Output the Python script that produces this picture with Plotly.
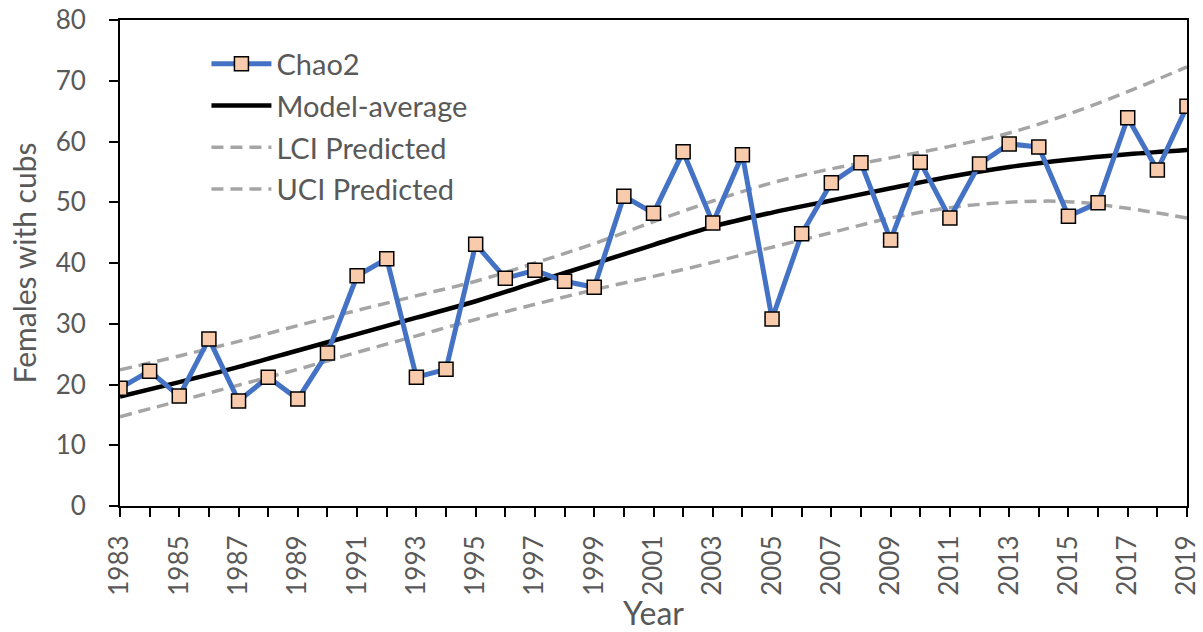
import plotly.graph_objects as go

years = list(range(1983, 2020))
chao2 = [19.4, 22.2, 18.1, 27.5, 17.3, 21.2, 17.6, 25.2, 37.9, 40.7,
         21.2, 22.5, 43.1, 37.5, 38.8, 37.0, 36.0, 51.0, 48.2, 58.3,
         46.6, 57.8, 30.8, 44.8, 53.2, 56.5, 43.8, 56.6, 47.4, 56.3,
         59.6, 59.1, 47.7, 49.9, 63.9, 55.3, 65.8]

curve_years = list(range(1983, 2020, 2))
model_avg = [18.0, 20.4, 22.9, 25.6, 28.3, 31.0, 33.7, 36.8, 39.9, 43.0,
             46.0, 48.3, 50.3, 52.3, 54.2, 55.8, 57.0, 57.9, 58.6]
lci = [14.7, 17.3, 19.9, 22.5, 25.3, 28.0, 30.7, 33.2, 35.6, 37.8,
       40.1, 42.6, 45.0, 47.4, 49.1, 50.0, 50.1, 49.0, 47.4]
uci = [22.4, 24.7, 27.1, 29.7, 32.2, 34.6, 37.0, 40.0, 43.2, 46.8,
       50.2, 53.2, 55.5, 57.3, 59.2, 61.4, 64.5, 68.2, 72.3]

grey = "#A5A5A5"
txt = "#595959"

fig = go.Figure()
fig.add_trace(go.Scatter(
    x=curve_years, y=uci, mode="lines", name="UCI Predicted",
    line=dict(color=grey, width=3.5, dash="12px,7px", shape="spline"),
    legendrank=4, legendgroup="d"))
fig.add_trace(go.Scatter(
    x=curve_years, y=lci, mode="lines", name="LCI Predicted",
    line=dict(color=grey, width=3.5, dash="12px,7px", shape="spline"),
    legendrank=3, legendgroup="c"))
fig.add_trace(go.Scatter(
    x=curve_years, y=model_avg, mode="lines", name="Model-average",
    line=dict(color="black", width=4.5, shape="spline"),
    legendrank=2, legendgroup="b"))
fig.add_trace(go.Scatter(
    x=years, y=chao2, mode="lines+markers", name="Chao2",
    line=dict(color="#4472C4", width=5),
    marker=dict(symbol="square", size=14, color="#F8CBAD",
                line=dict(color="black", width=1.5)),
    legendrank=1, legendgroup="a"))

fig.update_layout(
    width=1203, height=632,
    margin=dict(l=120, r=16, t=20, b=126),
    paper_bgcolor="white", plot_bgcolor="white",
    font=dict(family="Lato, Open Sans, sans-serif", color=txt, size=26),
    showlegend=True,
    legend=dict(x=0.081, y=0.962, xanchor="left", yanchor="top",
                font=dict(size=29, color=txt), bgcolor="rgba(0,0,0,0)",
                traceorder="grouped", tracegroupgap=1, itemwidth=60),
)
fig.update_xaxes(
    range=[1983, 2019], tickvals=list(range(1983, 2020, 2)),
    tickangle=-90, ticks="outside", ticklen=9, tickwidth=2, tickcolor="black",
    minor=dict(dtick=1, tick0=1983, ticks="outside", ticklen=9, tickwidth=2, tickcolor="black"),
    showline=True, linecolor="black", linewidth=2, mirror=True,
    showgrid=False, zeroline=False, automargin=False, ticklabelstandoff=8,
    ticklabeloverflow="allow",
    title=dict(text="Year", font=dict(size=32, color=txt), standoff=2),
    tickfont=dict(size=26, color=txt))
fig.update_yaxes(
    range=[0, 80], dtick=10, ticks="outside", ticklen=9, tickwidth=2, tickcolor="black",
    showline=True, linecolor="black", linewidth=2, mirror=True,
    showgrid=False, zeroline=False, automargin=False, ticklabelstandoff=18,
    ticklabeloverflow="allow",
    title=dict(text="Females with cubs", font=dict(size=30, color=txt), standoff=10),
    tickfont=dict(size=26, color=txt))

fig.write_html("out.html", config={"displayModeBar": False},
               post_script="document.body.style.margin='0px';document.body.style.padding='0px';")
